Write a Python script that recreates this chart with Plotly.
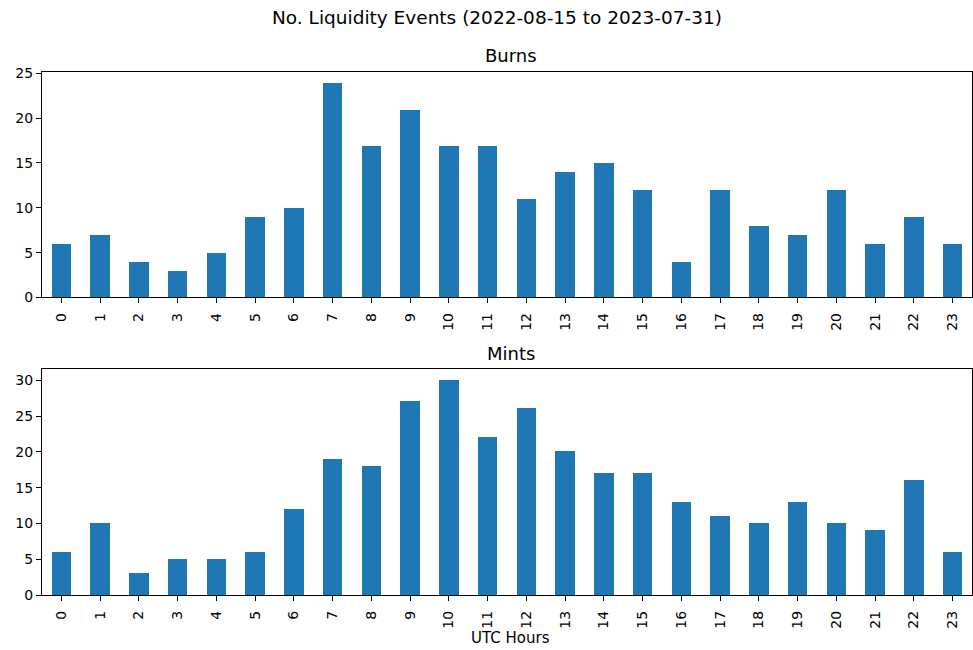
import plotly.graph_objects as go

hours = list(range(24))
hour_labels = [str(h) for h in hours]
burns = [6, 7, 4, 3, 5, 9, 10, 24, 17, 21, 17, 17, 11, 14, 15, 12, 4, 12, 8, 7, 12, 6, 9, 6]
mints = [6, 10, 3, 5, 5, 6, 12, 19, 18, 27, 30, 22, 26, 20, 17, 17, 13, 11, 10, 13, 10, 9, 16, 6]
burn_ticks = [0, 5, 10, 15, 20, 25]
mint_ticks = [0, 5, 10, 15, 20, 25, 30]

W, H = 973, 650
FONT = "DejaVu Sans"
BLUE = "#1f77b4"

# empirical vertical correction for the capture (observed y' = 0.979*y + 5.4)
SY, OY = 0.979, 5.4

def px_x(p):
    return p / W

def px_y(p):
    q = (p - OY) / SY
    return 1 - q / H

fig = go.Figure()
fig.add_trace(go.Bar(x=hours, y=burns, width=0.5, marker=dict(color=BLUE, line=dict(width=0)),
                     xaxis="x", yaxis="y", showlegend=False))
fig.add_trace(go.Bar(x=hours, y=mints, width=0.5, marker=dict(color=BLUE, line=dict(width=0)),
                     xaxis="x2", yaxis="y2", showlegend=False))

xcommon = dict(range=[-0.5, 23.5], tickmode="array", tickvals=hours, ticktext=hour_labels,
               tickangle=-90, ticks="outside", ticklen=5, tickcolor="black", tickwidth=1,
               showline=True, linecolor="black", linewidth=1, mirror=True, showgrid=False,
               zeroline=False, tickfont=dict(family=FONT, size=14, color="black"),
               ticklabelstandoff=4,
               domain=[px_x(42), px_x(972)])
ycommon = dict(ticks="outside", ticklen=5, tickcolor="black", tickwidth=1,
               showline=True, linecolor="black", linewidth=1, mirror=True, showgrid=False,
               zeroline=False, tickfont=dict(family=FONT, size=14, color="black"),
               tickmode="array")

fig.update_layout(
    width=W, height=H,
    margin=dict(l=0, r=0, t=0, b=0),
    plot_bgcolor="white", paper_bgcolor="white",
    bargap=0,
    xaxis=dict(**xcommon, anchor="y"),
    yaxis=dict(**ycommon, range=[0, 25.2], tickvals=burn_ticks,
               domain=[px_y(297), px_y(71)], anchor="x"),
    xaxis2=dict(**xcommon, anchor="y2"),
    yaxis2=dict(**ycommon, range=[0, 31.5], tickvals=mint_ticks,
                domain=[px_y(595), px_y(369)], anchor="x2"),
    annotations=[
        dict(text="No. Liquidity Events (2022-08-15 to 2023-07-31)", x=px_x(496.5), y=px_y(17),
             xref="paper", yref="paper", showarrow=False, yanchor="middle",
             font=dict(family=FONT, size=18.5, color="black")),
        dict(text="Burns", x=px_x(511), y=px_y(55), xref="paper", yref="paper",
             showarrow=False, yanchor="middle", font=dict(family=FONT, size=18, color="black")),
        dict(text="Mints", x=px_x(511), y=px_y(353), xref="paper", yref="paper",
             showarrow=False, yanchor="middle", font=dict(family=FONT, size=18, color="black")),
        dict(text="UTC Hours", x=px_x(511), y=px_y(638), xref="paper", yref="paper",
             showarrow=False, yanchor="middle", font=dict(family=FONT, size=15, color="black")),
    ],
)

post = (
    "document.documentElement.style.margin='0';"
    "document.body.style.margin='0';"
    "document.documentElement.style.overflow='hidden';"
    "document.body.style.overflow='hidden';"
)
fig.write_html("out.html", config={"displayModeBar": False}, post_script=post)
